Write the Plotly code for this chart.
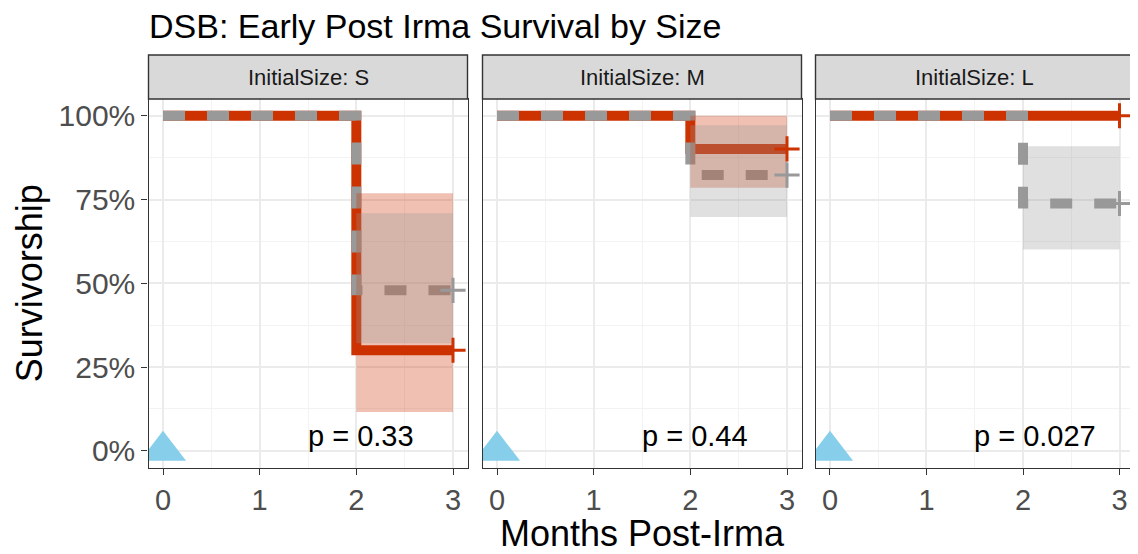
import plotly.graph_objects as go

# ---------------- data ----------------
sizes = ["S", "M", "L"]
strip_labels = ["InitialSize: S", "InitialSize: M", "InitialSize: L"]
p_labels = ["p = 0.33", "p = 0.44", "p = 0.027"]
time = [0, 2, 3]

red_surv = [[1.0, 0.30, 0.30], [1.0, 0.901, 0.901], [1.0, 1.0, 1.0]]
red_upper = [[1.0, 0.769, 0.769], [1.0, 1.0, 1.0], [1.0, 1.0, 1.0]]
red_lower = [[1.0, 0.116, 0.116], [1.0, 0.785, 0.785], [1.0, 1.0, 1.0]]

grey_surv = [[1.0, 0.479, 0.479], [1.0, 0.823, 0.823], [1.0, 0.738, 0.738]]
grey_upper = [[1.0, 0.709, 0.709], [1.0, 0.972, 0.972], [1.0, 0.909, 0.909]]
grey_lower = [[1.0, 0.321, 0.321], [1.0, 0.698, 0.698], [1.0, 0.601, 0.601]]

origin_x = [0]
origin_y = [0]

x_ticks = [0, 1, 2, 3]
y_ticks = [0, 0.25, 0.5, 0.75, 1.0]

# ---------------- style ----------------
PAGE_W, PAGE_H = 1138, 554
OFF = 8  # default page body margin
W, H = PAGE_W - OFF, PAGE_H - OFF
RED = "#CC3300"
GREY = "#999999"
RED_FILL = "rgba(204,51,0,0.3)"
GREY_FILL = "rgba(153,153,153,0.3)"
FONT = "Liberation Sans, Arial, sans-serif"

panel_px = [(148.5, 467.5), (482.5, 801.5), (815.5, 1134.0)]
panel_top, panel_bottom = 99.0, 467.5
strip_top = 55.0


def fx(p):
    return (p - OFF) / W


def fy(p):
    return 1 - (p - OFF) / H


fig = go.Figure()

for i in range(3):
    xa = "x" if i == 0 else f"x{i+1}"
    ya = "y" if i == 0 else f"y{i+1}"
    # survival lines
    fig.add_trace(go.Scatter(x=time, y=red_surv[i], mode="lines", xaxis=xa, yaxis=ya,
                             line=dict(color=RED, width=10, shape="hv"),
                             hoverinfo="skip", showlegend=False))
    fig.add_trace(go.Scatter(x=time, y=grey_surv[i], mode="lines", xaxis=xa, yaxis=ya,
                             line=dict(color=GREY, width=10, shape="hv", dash="22px,22px"),
                             hoverinfo="skip", showlegend=False))
    # confidence bands
    for up, lo, fc in ((red_upper, red_lower, RED_FILL), (grey_upper, grey_lower, GREY_FILL)):
        fig.add_trace(go.Scatter(x=time, y=up[i], mode="lines", xaxis=xa, yaxis=ya,
                                 line=dict(width=0, shape="hv"),
                                 hoverinfo="skip", showlegend=False))
        fig.add_trace(go.Scatter(x=time, y=lo[i], mode="lines", xaxis=xa, yaxis=ya,
                                 line=dict(width=0, shape="hv"), fill="tonexty",
                                 fillcolor=fc, hoverinfo="skip", showlegend=False))
    # censor marks
    for surv, col in ((red_surv, RED), (grey_surv, GREY)):
        fig.add_trace(go.Scatter(x=[time[-1]], y=[surv[i][-1]], mode="markers",
                                 xaxis=xa, yaxis=ya,
                                 marker=dict(symbol="cross-thin", size=18,
                                             line=dict(color=col, width=3)),
                                 hoverinfo="skip", showlegend=False))
    # origin triangle
    fig.add_trace(go.Scatter(x=origin_x, y=origin_y, mode="markers", xaxis=xa, yaxis=ya,
                             marker=dict(symbol="triangle-up", size=40, color="#87CEEB",
                                         line=dict(width=0)),
                             hoverinfo="skip", showlegend=False))

layout = dict(
    width=W, height=H,
    margin=dict(l=0, r=0, t=0, b=0),
    paper_bgcolor="white", plot_bgcolor="white",
    font=dict(family=FONT),
    title=dict(text="DSB: Early Post Irma Survival by Size", x=fx(149), xanchor="left",
               y=fy(26), yanchor="middle", font=dict(size=34, color="black", family=FONT)),
    showlegend=False,
)

annotations = []
shapes = []
for i in range(3):
    xname = "xaxis" if i == 0 else f"xaxis{i+1}"
    yname = "yaxis" if i == 0 else f"yaxis{i+1}"
    xa = "x" if i == 0 else f"x{i+1}"
    ya = "y" if i == 0 else f"y{i+1}"
    x0, x1 = panel_px[i]
    layout[xname] = dict(
        domain=[fx(x0), fx(x1)], anchor=ya, range=[-0.15, 3.15],
        tickvals=x_ticks, ticktext=[str(t) for t in x_ticks],
        showline=True, mirror=True, linecolor="#333333", linewidth=1.4,
        ticks="outside", ticklen=6, tickwidth=1.4, tickcolor="#333333",
        tickfont=dict(size=29, color="#4D4D4D", family=FONT),
        showgrid=True, gridcolor="#EBEBEB", gridwidth=2, zeroline=False,
        minor=dict(dtick=0.5, tick0=0, showgrid=True, gridcolor="#F3F3F3", gridwidth=1),
        fixedrange=True,
    )
    layout[yname] = dict(
        domain=[fy(panel_bottom), fy(panel_top)], anchor=xa, range=[-0.05, 1.05],
        tickvals=y_ticks, tickformat=".0%",
        showticklabels=(i == 0), ticks=("outside" if i == 0 else ""),
        ticklen=6, tickwidth=1.4, tickcolor="#333333",
        tickfont=dict(size=30, color="#4D4D4D", family=FONT),
        showline=True, mirror=True, linecolor="#333333", linewidth=1.4,
        showgrid=True, gridcolor="#EBEBEB", gridwidth=2, zeroline=False,
        minor=dict(dtick=0.125, tick0=0, showgrid=True, gridcolor="#F3F3F3", gridwidth=1),
        fixedrange=True,
    )
    # strip
    shapes.append(dict(type="rect", xref=f"{xa} domain", yref="paper",
                       x0=0, x1=1, y0=fy(panel_top), y1=fy(strip_top),
                       fillcolor="#D9D9D9", line=dict(color="#333333", width=1.4),
                       layer="above"))
    annotations.append(dict(text=strip_labels[i], xref=f"{xa} domain", yref="paper",
                            x=0.5, y=fy((strip_top + panel_top) / 2), xanchor="center",
                            yanchor="middle", showarrow=False,
                            font=dict(size=22, color="#1A1A1A", family=FONT)))
    # p-value
    annotations.append(dict(text=p_labels[i], xref=xa, yref=ya, x=1.476, y=0.045,
                            xanchor="left", yanchor="middle", showarrow=False,
                            font=dict(size=29, color="black", family=FONT)))

annotations.append(dict(text="Survivorship", xref="paper", yref="paper",
                        x=fx(29), y=fy((panel_top + panel_bottom) / 2), textangle=-90,
                        xanchor="center", yanchor="middle", showarrow=False,
                        font=dict(size=36, color="black", family=FONT)))
annotations.append(dict(text="Months Post-Irma", xref="paper", yref="paper",
                        x=fx(642), y=fy(533), xanchor="center", yanchor="middle",
                        showarrow=False, font=dict(size=36, color="black", family=FONT)))

layout["annotations"] = annotations
layout["shapes"] = shapes
fig.update_layout(**layout)

fig.write_html("out.html")
